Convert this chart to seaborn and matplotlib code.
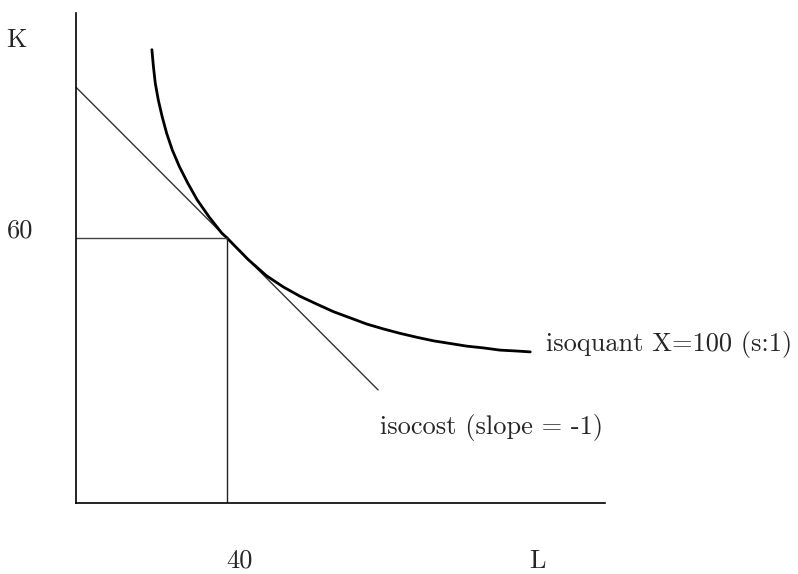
import numpy as np
import pandas as pd
import matplotlib
matplotlib.use('Agg')
import matplotlib.pyplot as plt
import seaborn as sns

sns.set_style('white')
plt.rcParams['font.family'] = ['cmr10', 'DejaVu Serif']
plt.rcParams['axes.unicode_minus'] = False

# isoquant X=100, points (L, K)
iso_L = [20.1, 20.5, 21.0, 21.8, 22.8, 24.0, 25.5, 27.4, 29.6, 32.1, 35.2, 38.6, 40.0,
         41.7, 45.6, 50.5, 54.9, 59.3, 63.8, 68.2, 72.6, 77.0, 81.4, 85.8, 90.3,
         94.7, 99.1, 103.5, 107.9, 112.3, 116.7, 120.3]
iso_K = [102.6, 98.8, 95.0, 91.2, 87.5, 83.7, 79.9, 76.1, 72.4, 68.6, 64.8, 61.1, 60.0,
         58.5, 55.1, 51.4, 48.9, 46.8, 45.0, 43.3, 41.9, 40.5, 39.4, 38.4, 37.5,
         36.7, 36.1, 35.5, 35.1, 34.6, 34.4, 34.2]

# isocost line end points
cost_L = [0.0, 80.0]
cost_K = [94.1, 25.6]

# optimum
opt_L = 40
opt_K = 60

fig = plt.figure(figsize=(7.98, 5.74), dpi=100)
ax = fig.add_axes([76/798, 71/574, 529/798, 490/574])
ax.set_xlim(0, 140.1)
ax.set_ylim(0, 110.9)

sns.lineplot(x=cost_L, y=cost_K, ax=ax, color='#333333', lw=1.0, sort=False, estimator=None)
sns.lineplot(x=iso_L, y=iso_K, ax=ax, color='black', lw=2.0, sort=False, estimator=None)
sns.lineplot(x=[0, opt_L], y=[opt_K, opt_K], ax=ax, color='#444444', lw=1.0, sort=False, estimator=None)
sns.lineplot(x=[opt_L, opt_L], y=[opt_K, 0], ax=ax, color='#222222', lw=1.0, sort=False, estimator=None)

sns.despine(ax=ax)
for s in ['left', 'bottom']:
    ax.spines[s].set_color('black')
    ax.spines[s].set_linewidth(1.2)
ax.set_xticks([])
ax.set_yticks([])
ax.set_xlabel('')
ax.set_ylabel('')

fs = 19
ax.text(-15.8, 104.8, 'K', fontsize=fs, ha='center', va='center', clip_on=False)
ax.text(-14.7, 61.6, str(opt_K), fontsize=fs, ha='center', va='center', clip_on=False)
ax.text(43.4, -13.1, str(opt_L), fontsize=fs, ha='center', va='center', clip_on=False)
ax.text(122.1, -13.1, 'L', fontsize=fs, ha='center', va='center', clip_on=False)
ax.text(124.5, 35.8, 'isoquant X=100 (s:1)', fontsize=fs, ha='left', va='center', clip_on=False)
ax.text(80.5, 17.0, 'isocost (slope = -1)', fontsize=fs, ha='left', va='center', clip_on=False)

fig.savefig('out.png', dpi=100)
